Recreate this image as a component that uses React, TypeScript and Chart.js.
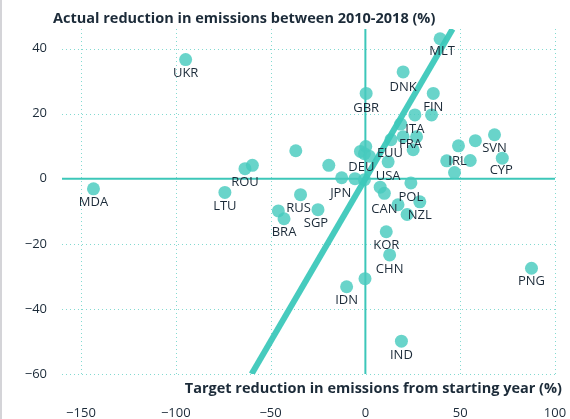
import React, { useEffect, useRef } from 'react';
import { Chart, registerables } from 'chart.js';

Chart.register(...registerables);

// ---- data ----
const countries = [
  'UKR', 'MDA', 'ROU', '', 'LTU', '', '', 'RUS', '', 'BRA', 'SGP', 'JPN', '', '',
  '', '', 'DEU', '', 'USA', 'EUU', 'GBR', 'DNK', 'MLT', 'FIN', '', 'ITA', '', 'FRA',
  '', '', 'POL', '', 'CAN', '', 'NZL', '', 'KOR', 'CHN', '', 'IDN', 'IND', 'PNG',
  'IRL', '', 'SVN', 'CYP', '', '', '',
];
const targetReduction = [
  -94.8, -143.4, -63.5, -59.6, -74.1, -36.7, -19.3, -34.2, -45.9, -42.9, -25, -12.5, -5.5, -0.5,
  -2.6, 0.2, -0.5, 2.1, 12, 13.5, 0.4, 19.9, 39.4, 35.8, 34.9, 26.1, 18.6, 27,
  19.9, 25.2, 24, 7.8, 10, 17.2, 28.7, 22, 11, 12.8, -0.2, -9.9, 19, 87.6,
  49.1, 58, 68.1, 72.2, 55.3, 42.9, 47,
];
const actualReduction = [
  36.6, -3.1, 3.1, 4.1, -4.2, 8.6, 4.1, -4.9, -9.9, -12.3, -9.5, 0.3, 0, -0.3,
  8.4, 9.9, 7.7, 6.9, 5.2, 12, 26.2, 32.8, 43, 26.2, 19.6, 19.6, 16.8, 12.9,
  12.9, 8.9, -1.3, -2.6, -4.5, -8, -7.1, -11, -16.3, -23.4, -30.7, -33.2, -49.9, -27.5,
  10.1, 11.7, 13.5, 6.3, 5.6, 5.5, 1.9,
];
const trendX = [-60, 46];
const trendY = [-60, 46];
const xTicks = [-150, -100, -50, 0, 50, 100];
const yTicks = [-60, -40, -20, 0, 20, 40];
const xTitle = 'Target reduction in emissions from starting year (%)';
const yTitle = 'Actual reduction in emissions between 2010-2018 (%)';

// ---- styling ----
const FONT = '"Open Sans", sans-serif';
const TEXT = '#1c2b39';
const DOT = 'rgba(72, 203, 190, 0.82)';
const TEAL = '#3cc7b9';
const GRID = 'rgba(90, 205, 193, 0.75)';
const labelOffsets: Record<string, [number, number]> = {
  DEU: [-3, 14], FRA: [-6, 8], MLT: [2, 13], JPN: [-1, 16], CAN: [0, 16],
  RUS: [-2, 14], SGP: [-2, 14], USA: [0, 15], GBR: [0, 15], DNK: [0, 15],
  IRL: [-1, 15], CYP: [-1, 12.5], EUU: [-1, 14], MDA: [0, 13], PNG: [0, 13], NZL: [0, 13],
};

const fmt = (v: number) => (v < 0 ? '\u2212' + Math.abs(v) : String(v));

const decorPlugin = {
  id: 'decor',
  beforeDatasetsDraw(chart: any) {
    const { ctx, chartArea: a, scales } = chart;
    const xs = scales.x;
    const ys = scales.y;
    ctx.save();
    ctx.strokeStyle = GRID;
    ctx.lineWidth = 1;
    ctx.setLineDash([1, 3]);
    xTicks.forEach((v) => {
      if (v === 0) return;
      const px = Math.round(xs.getPixelForValue(v)) + 0.5;
      ctx.beginPath();
      ctx.moveTo(px, a.top);
      ctx.lineTo(px, a.bottom);
      ctx.stroke();
    });
    yTicks.forEach((v) => {
      if (v === 0) return;
      const py = Math.round(ys.getPixelForValue(v)) + 0.5;
      ctx.beginPath();
      ctx.moveTo(a.left, py);
      ctx.lineTo(a.right, py);
      ctx.stroke();
    });
    ctx.setLineDash([]);
    ctx.strokeStyle = TEAL;
    ctx.lineWidth = 2;
    const x0 = xs.getPixelForValue(0);
    const y0 = ys.getPixelForValue(0);
    ctx.beginPath();
    ctx.moveTo(x0, a.top);
    ctx.lineTo(x0, a.bottom);
    ctx.stroke();
    ctx.beginPath();
    ctx.moveTo(a.left, y0);
    ctx.lineTo(a.right, y0);
    ctx.stroke();
    ctx.restore();
  },
  afterDatasetsDraw(chart: any) {
    const { ctx, scales } = chart;
    ctx.save();
    ctx.font = `13px ${FONT}`;
    ctx.fillStyle = TEXT;
    ctx.textAlign = 'center';
    ctx.textBaseline = 'middle';
    countries.forEach((c, i) => {
      if (!c) return;
      const off = labelOffsets[c] || [0, 14];
      const px = scales.x.getPixelForValue(targetReduction[i]);
      const py = scales.y.getPixelForValue(actualReduction[i]);
      ctx.fillText(c, px + off[0], py + off[1]);
    });
    // titles
    ctx.font = `bold 14.5px ${FONT}`;
    ctx.textAlign = 'left';
    ctx.fillText(yTitle, 51, 19);
    ctx.textAlign = 'right';
    ctx.fillText(xTitle, 560, 389);
    ctx.restore();
  },
};

export default function App() {
  const ref = useRef<HTMLCanvasElement | null>(null);
  useEffect(() => {
    if (!ref.current) return;
    const points = targetReduction.map((x, i) => ({ x, y: actualReduction[i] }));
    const trend = trendX.map((x, i) => ({ x, y: trendY[i] }));
    const chart = new Chart(ref.current, {
      type: 'scatter',
      data: {
        datasets: [
          {
            type: 'line',
            data: trend,
            borderColor: 'rgba(60, 200, 186, 0.95)',
            borderWidth: 6,
            pointRadius: 0,
            borderCapStyle: 'butt',
            order: 0,
          } as any,
          {
            data: points,
            backgroundColor: DOT,
            borderWidth: 0,
            pointRadius: 6.5,
            pointHoverRadius: 6.5,
            order: 1,
          },
        ],
      },
      options: {
        responsive: false,
        animation: false,
        events: [],
        layout: { padding: { top: 29, right: 15, left: 0, bottom: 0 } },
        plugins: { legend: { display: false }, tooltip: { enabled: false } },
        scales: {
          x: {
            type: 'linear',
            min: -160,
            max: 100,
            grid: { display: false, drawTicks: false },
            border: { display: false },
            afterBuildTicks: (s: any) => { s.ticks = xTicks.map((v) => ({ value: v })); },
            afterFit: (s: any) => { s.height = 45; s.paddingLeft = 0; s.paddingRight = 0; },
            ticks: {
              padding: 31,
              autoSkip: false,
              maxRotation: 0,
              color: TEXT,
              font: { family: FONT, size: 13 },
              callback: (v: any) => fmt(Number(v)),
            },
          },
          y: {
            type: 'linear',
            min: -60,
            max: 46,
            grid: { display: false, drawTicks: false },
            border: { display: false },
            afterBuildTicks: (s: any) => { s.ticks = yTicks.map((v) => ({ value: v })); },
            afterFit: (s: any) => { s.width = 60; s.paddingTop = 0; s.paddingBottom = 0; },
            ticks: {
              padding: 15,
              autoSkip: false,
              color: TEXT,
              font: { family: FONT, size: 13 },
              callback: (v: any) => fmt(Number(v)),
            },
          },
        },
      },
      plugins: [decorPlugin],
    });
    return () => chart.destroy();
  }, []);
  return (
    <div style={{ position: 'fixed', left: 0, top: 0, width: 570, height: 419, background: '#fff', borderLeft: '2px solid #d4d4d8', boxSizing: 'border-box' }}>
      <canvas ref={ref} width={568} height={419} style={{ display: 'block' }} />
    </div>
  );
}
